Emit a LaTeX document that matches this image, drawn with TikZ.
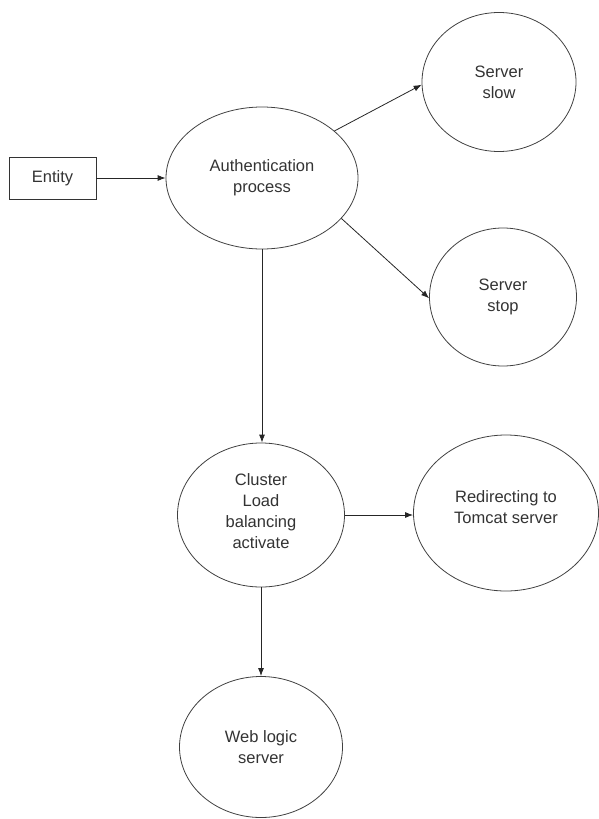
\documentclass[tikz,border=0pt]{standalone}
\usepackage{fontspec}
\setmainfont{Liberation Sans}
\usetikzlibrary{shapes.geometric,arrows.meta}

\begin{document}
\begin{tikzpicture}[x=1pt,y=-1pt,
  every node/.style={font=\fontsize{16.5}{21}\selectfont, align=center, text=black!80},
  bubble/.style={ellipse, draw=black!75, line width=0.8pt, inner sep=0pt},
  entitybox/.style={rectangle, draw=black!80, line width=0.8pt, minimum width=87pt, minimum height=42pt, inner sep=0pt},
  flow/.style={draw=black!85, line width=0.8pt, -{Latex[length=8pt,width=6pt]}}
]
  \useasboundingbox (0,0) rectangle (599,819);

  \node[entitybox] (ent) at (52.5,178) {Entity};
  \node[bubble, minimum width=192pt, minimum height=142pt] (auth) at (262,178) {Authentication\\process};
  \node[bubble, minimum width=154pt, minimum height=139pt] (slow) at (499,82) {Server\\slow};
  \node[bubble, minimum width=147pt, minimum height=138pt] (stop) at (503,297) {Server\\stop};
  \node[bubble, minimum width=167pt, minimum height=144pt, text depth=8pt] (clus) at (261,515) {Cluster\\Load\\balancing\\activate};
  \node[bubble, minimum width=185pt, minimum height=156pt, text depth=12pt] (redir) at (506,513) {Redirecting to\\Tomcat server};
  \node[bubble, minimum width=163pt, minimum height=141pt] (web) at (261,747) {Web logic\\server};

  \draw[flow] (ent.east) -- (ent.east -| auth.west);
  \draw[flow] (auth.33.5) -- (slow.182);
  \draw[flow] (auth.-27) -- (stop.181);
  \draw[flow] (auth.south) -- (auth.south |- clus.north);
  \draw[flow] (clus.east) -- (clus.east -| redir.west);
  \draw[flow] (clus.south) -- (web.north);
\end{tikzpicture}
\end{document}
